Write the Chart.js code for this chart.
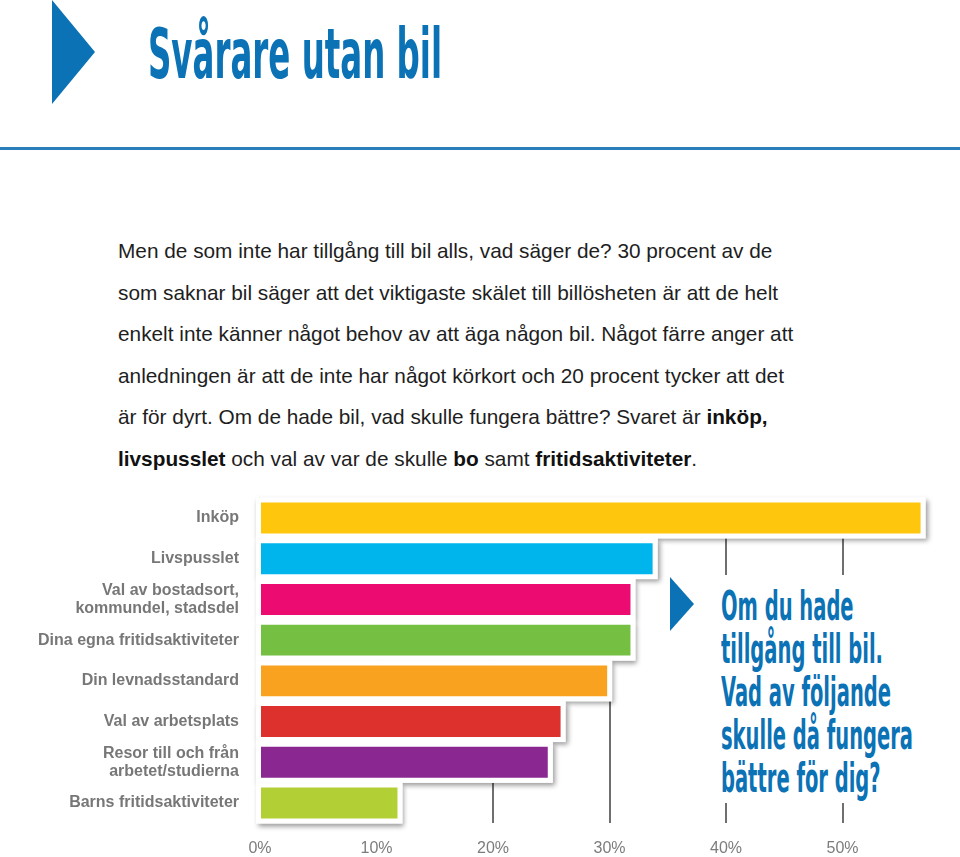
<!DOCTYPE html>
<html lang="sv">
<head>
<meta charset="utf-8">
<script src="https://cdn.jsdelivr.net/npm/chart.js@4.4.1/dist/chart.umd.min.js"></script>
<style>
body { margin: 0; background: #fff; }
#page { position: relative; width: 960px; height: 857px; overflow: hidden; background: #fff; }
.abs { position: absolute; }
#tri { left: 52px; top: 0; width: 0; height: 0; border-left: 43px solid #0b72b5; border-top: 52px solid transparent; border-bottom: 52px solid transparent; }
#title { left: 148px; top: 19px; font: bold 70px/1 "DejaVu Sans Condensed", "DejaVu Sans"; color: #0b72b5; white-space: nowrap; transform-origin: 0 0; }
#rule { left: 0; top: 147px; width: 960px; height: 3px; background: #2a7fba; }
#para { left: 118px; top: 230px; font: 20.8px/41.5px "Liberation Sans", Arial, sans-serif; color: #1e1e1e; white-space: nowrap; }
#para b { font-weight: bold; color: #111; }
#chart { left: 0; top: 480px; }
#box { left: 665px; top: 575px; width: 270px; height: 228px; background: #fff; }
#tri2 { left: 670px; top: 577px; width: 0; height: 0; border-left: 24px solid #0b72b5; border-top: 27px solid transparent; border-bottom: 27px solid transparent; }
#question { left: 721px; top: 585px; font: bold 40px/43px "DejaVu Sans Condensed", "DejaVu Sans"; color: #0b72b5; white-space: nowrap; }
#question span { display: inline-block; transform-origin: 0 0; }
</style>
</head>
<body>
<div id="page">
  <div id="tri" class="abs"></div>
  <div id="title" class="abs">Svårare utan bil</div>
  <div id="rule" class="abs"></div>
  <div id="para" class="abs">
    Men de som inte har tillgång till bil alls, vad säger de? 30 procent av de<br>
    som saknar bil säger att det viktigaste skälet till billösheten är att de helt<br>
    enkelt inte känner något behov av att äga någon bil. Något färre anger att<br>
    anledningen är att de inte har något körkort och 20 procent tycker att det<br>
    är för dyrt. Om de hade bil, vad skulle fungera bättre? Svaret är <b>inköp,</b><br>
    <b>livspusslet</b> och val av var de skulle <b>bo</b> samt <b>fritidsaktiviteter</b>.
  </div>
  <canvas id="chart" class="abs" width="960" height="377"></canvas>
  <div id="box" class="abs"></div>
  <div id="tri2" class="abs"></div>
  <div id="question" class="abs">
    <span>Om du hade</span><br>
    <span>tillgång till bil.</span><br>
    <span>Vad av följande</span><br>
    <span>skulle då fungera</span><br>
    <span>bättre för dig?</span>
  </div>
</div>
<script>
// data
const categories = [
  'Inköp',
  'Livspusslet',
  ['Val av bostadsort,', 'kommundel, stadsdel'],
  'Dina egna fritidsaktiviteter',
  'Din levnadsstandard',
  'Val av arbetsplats',
  ['Resor till och från', 'arbetet/studierna'],
  'Barns fritidsaktiviteter'
];
const values = [56.7, 33.7, 31.8, 31.8, 29.8, 25.8, 24.7, 11.8];
const barColors = ['#fec60c', '#00b5eb', '#ec0b70', '#75bf43', '#f8a21f', '#dd312e', '#8a2790', '#b2cf36'];
const tickValues = [0, 10, 20, 30, 40, 50];

// squeeze the condensed headings to the width of the original type
const title = document.getElementById('title');
title.style.transform = 'scaleX(' + (294 / title.getBoundingClientRect().width) + ')';
const spans = document.querySelectorAll('#question span');
let widest = 0;
spans.forEach(s => { widest = Math.max(widest, s.getBoundingClientRect().width); });
spans.forEach(s => { s.style.transform = 'scaleX(' + (192 / widest) + ')'; });

// white stepped backing with drop shadow behind the bars
const whiteBoxes = {
  id: 'whiteBoxes',
  beforeDatasetsDraw(chart) {
    const ctx = chart.ctx;
    const area = chart.chartArea;
    const bars = chart.getDatasetMeta(0).data;
    const pad = 5;
    ctx.save();
    ctx.fillStyle = '#fff';
    // hide grid stubs above the top bar
    ctx.fillRect(area.left, area.top - 4, area.width, 8);
    ctx.shadowColor = 'rgba(0,0,0,0.4)';
    ctx.shadowBlur = 5;
    ctx.shadowOffsetX = 2;
    ctx.shadowOffsetY = 3;
    for (let pass = 0; pass < 2; pass++) {
      if (pass === 1) ctx.shadowColor = 'rgba(0,0,0,0)';
      bars.forEach(b => {
        const p = b.getProps(['x', 'y', 'base', 'height'], true);
        ctx.fillRect(p.base - pad, p.y - p.height / 2 - pad, p.x - p.base + pad * 2, p.height + pad * 2);
      });
    }
    ctx.restore();
  }
};

new Chart(document.getElementById('chart'), {
  type: 'bar',
  data: {
    labels: categories,
    datasets: [{
      data: values,
      backgroundColor: barColors,
      borderWidth: 0,
      barPercentage: 0.76,
      categoryPercentage: 1
    }]
  },
  options: {
    indexAxis: 'y',
    responsive: false,
    animation: false,
    devicePixelRatio: 1,
    layout: { padding: { top: 17.6, right: 24.3, left: 0, bottom: 0 } },
    plugins: { legend: { display: false }, tooltip: { enabled: false } },
    scales: {
      x: {
        min: 0,
        max: 58,
        afterBuildTicks: s => { s.ticks = tickValues.map(v => ({ value: v })); },
        afterFit: s => { s.height = 33.6; s.paddingLeft = 0; s.paddingRight = 0; },
        border: { display: false },
        grid: { color: '#6f6f6f', lineWidth: 2, drawTicks: false },
        ticks: {
          padding: 16,
          color: '#7c7c7c',
          font: { family: '"Liberation Sans", Arial, sans-serif', size: 16 },
          callback: v => v + '%'
        }
      },
      y: {
        afterFit: s => { s.width = 260; s.paddingTop = 0; s.paddingBottom = 0; },
        border: { display: false },
        grid: { display: false, drawTicks: false },
        ticks: {
          padding: 21,
          color: '#777',
          font: { family: '"Liberation Sans", Arial, sans-serif', size: 16, weight: 'bold', lineHeight: 1.13 }
        }
      }
    }
  },
  plugins: [whiteBoxes]
});
</script>
</body>
</html>
